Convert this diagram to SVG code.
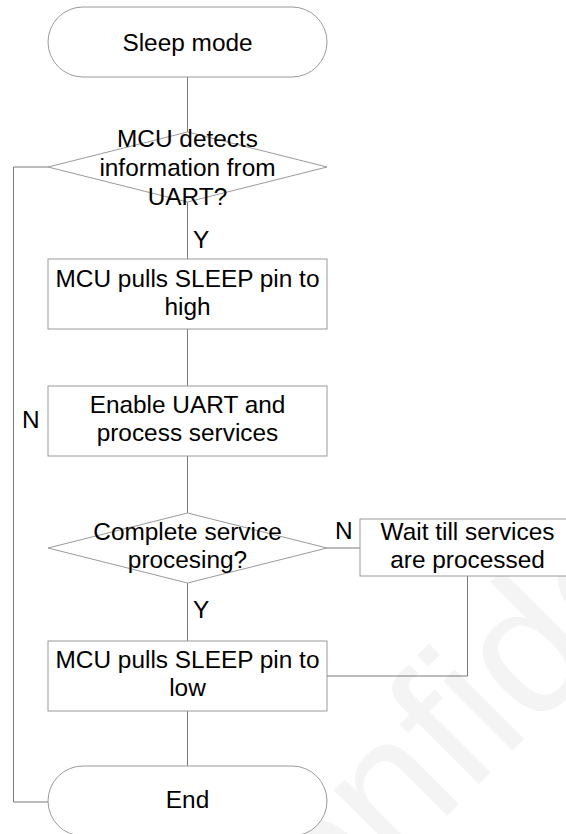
<svg xmlns="http://www.w3.org/2000/svg" width="566" height="834" viewBox="0 0 566 834">
  <style>
    .shape { fill: #ffffff; stroke: #9a9a9a; stroke-width: 1; }
    .link { fill: none; stroke: #7a7a7a; stroke-width: 1; }
    .label { font-family: "Liberation Sans", Arial, sans-serif; font-size: 24.4px; fill: #000000; }
    .mid { text-anchor: middle; }
    .mark { font-family: "Liberation Sans", Arial, sans-serif; font-size: 186px; fill: #f4f4f4; }
  </style>
  <rect width="566" height="834" fill="#ffffff"/>

  <!-- background watermark -->
  <text class="mark" x="226" y="1037" transform="rotate(-45 226 1037)">Confidential</text>

  <!-- connectors -->
  <g id="connectors">
    <line class="link" x1="187.5" y1="77" x2="187.5" y2="132"/>
    <line class="link" x1="187.5" y1="202" x2="187.5" y2="259"/>
    <line class="link" x1="187.5" y1="329" x2="187.5" y2="386"/>
    <line class="link" x1="187.5" y1="456" x2="187.5" y2="513"/>
    <line class="link" x1="187.5" y1="583" x2="187.5" y2="641"/>
    <line class="link" x1="187.5" y1="711" x2="187.5" y2="766"/>
    <line class="link" x1="327" y1="548" x2="360" y2="548"/>
    <polyline class="link" points="467.5,576 467.5,676 327,676"/>
    <polyline class="link" points="48,167 13.5,167 13.5,802 48,802"/>
    <text class="label" x="193" y="248">Y</text>
    <text class="label" x="22" y="428">N</text>
    <text class="label" x="335" y="539">N</text>
    <text class="label" x="193" y="618">Y</text>
  </g>

  <g id="start">
    <rect class="shape" x="48" y="7" width="279" height="70" rx="35" ry="35"/>
    <text class="label mid" x="187.5" y="50.5">Sleep mode</text>
  </g>

  <g id="detect-uart">
    <polygon class="shape" points="187.5,132 327,167 187.5,202 48,167"/>
    <text class="label mid" x="187.5" y="147">MCU detects</text>
    <text class="label mid" x="187.5" y="176">information from</text>
    <text class="label mid" x="187.5" y="205">UART?</text>
  </g>

  <g id="pin-high">
    <rect class="shape" x="48" y="259" width="279" height="70"/>
    <text class="label mid" x="187.5" y="287">MCU pulls SLEEP pin to</text>
    <text class="label mid" x="187.5" y="315">high</text>
  </g>

  <g id="enable-uart">
    <rect class="shape" x="48" y="386" width="279" height="70"/>
    <text class="label mid" x="187.5" y="413">Enable UART and</text>
    <text class="label mid" x="187.5" y="441">process services</text>
  </g>

  <g id="service-done">
    <polygon class="shape" points="187.5,513 327,548 187.5,583 48,548"/>
    <text class="label mid" x="187.5" y="540">Complete service</text>
    <text class="label mid" x="187.5" y="568">procesing?</text>
  </g>

  <g id="wait-services">
    <rect class="shape" x="360" y="519" width="215" height="57"/>
    <text class="label mid" x="467.5" y="540">Wait till services</text>
    <text class="label mid" x="467.5" y="568">are processed</text>
  </g>

  <g id="pin-low">
    <rect class="shape" x="48" y="641" width="279" height="70"/>
    <text class="label mid" x="187.5" y="668">MCU pulls SLEEP pin to</text>
    <text class="label mid" x="187.5" y="696">low</text>
  </g>

  <g id="end">
    <rect class="shape" x="48" y="766" width="279" height="70" rx="35" ry="35"/>
    <text class="label mid" x="187.5" y="808">End</text>
  </g>
</svg>
